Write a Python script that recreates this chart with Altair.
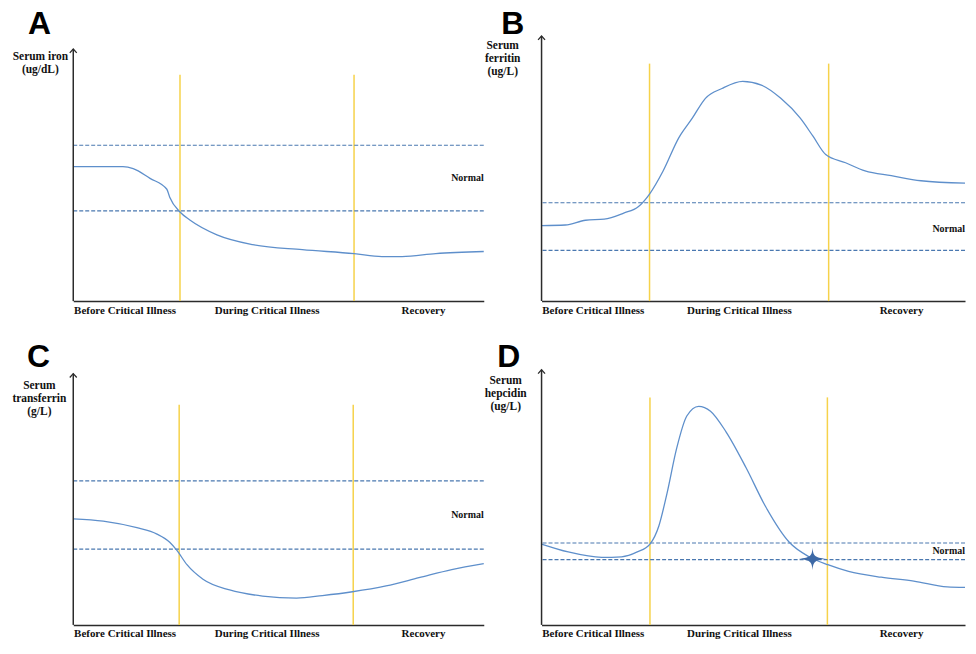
import altair as alt
import pandas as pd

SERIF = "Liberation Serif"
CURVE = "#5E8FCB"
DASH = "#4A78B0"
YEL = "#F6D24A"
AX = "#2b2b2b"
STAR = "#3D69A6"

phase_names = ["Before Critical Illness", "During Critical Illness", "Recovery"]

# ---------- Panel A: serum iron ----------
A_title = ["Serum iron", "(ug/dL)"]
A_x = [0, 12.1, 14.6, 18.7, 22.8, 23.5, 26.0, 28.4, 35.0, 43.7, 55.8, 68.4, 75.2, 80.1, 88.3, 100]
A_y = [50.7, 50.7, 50.0, 46.3, 42.2, 39.2, 33.6, 30.6, 25.0, 21.3, 19.4, 17.9, 16.8, 16.8, 17.9, 18.7]
A_phase = [26.0, 68.4]
A_phase_top = 85.4
A_band = [34.0, 58.8]
A_normal = 46.4
A_arrow = 95.1
A_labels = [12.5, 47.1, 85.2]

# ---------- Panel B: serum ferritin ----------
B_title = ["Serum", "ferritin", "(ug/L)"]
B_x = [0, 5.6, 10.4, 14.8, 19.4, 22.9, 25.5, 28.7, 32.4, 35.6, 38.7, 42.6, 47.5, 51.9,
       56.5, 61.1, 64.1, 67.1, 71.8, 76.4, 82.6, 89.6, 100]
B_y = [28.5, 28.7, 30.5, 30.9, 33.2, 35.7, 40.4, 49.1, 61.6, 69.0, 76.5, 80.2, 82.9, 81.5,
       76.5, 69.0, 62.2, 55.3, 52.2, 49.1, 47.3, 45.4, 44.5]
B_phase = [25.5, 67.8]
B_phase_top = 89.6
B_band = [19.1, 37.1]
B_normal = 27.1
B_arrow = 100
B_labels = [12.1, 46.6, 84.9]

# ---------- Panel C: serum transferrin ----------
C_title = ["Serum", "transferrin", "(g/L)"]
C_x = [0, 7.3, 15.5, 20.4, 23.5, 25.2, 27.7, 31.6, 38.1, 46.1, 54.4, 60.7, 68.0, 76.2, 84.2, 92.2, 100]
C_y = [41.6, 40.7, 38.1, 35.6, 32.4, 29.3, 23.6, 17.9, 13.7, 11.3, 10.5, 11.5, 13.0, 15.3, 18.5, 21.7, 24.0]
C_phase = [25.8, 68.2]
C_phase_top = 86.3
C_band = [29.7, 56.5]
C_normal = 43.0
C_arrow = 98.5
C_labels = [12.5, 47.1, 85.2]

# ---------- Panel D: serum hepcidin ----------
D_title = ["Serum", "hepcidin", "(ug/L)"]
D_x = [0, 6.3, 14.2, 18.9, 22.6, 25.6, 27.7, 29.6, 31.9, 34.3, 37.1, 39.9, 43.6, 48.3,
       52.9, 58.5, 63.2, 67.6, 72.5, 80.2, 87.9, 95.8, 100]
D_y = [31.7, 28.6, 26.5, 26.7, 28.6, 31.7, 38.8, 51.4, 69.2, 81.9, 85.7, 83.8, 75.6, 61.6,
       46.4, 32.4, 26.7, 23.6, 21.0, 18.7, 17.2, 14.9, 14.7]
D_phase = [25.6, 67.5]
D_phase_top = 89.2
D_band = [25.6, 32.1]
D_normal = 29.0
D_arrow = 100
D_labels = [12.1, 46.6, 84.9]
D_star = (64.0, 25.9)

ARROW = "M-1,1.1L0,0L1,1.1"
STAR_SHAPE = ("M0,-0.8 C0.05,-0.25 0.1,-0.1 1,0 C0.1,0.1 0.05,0.25 0,0.8 "
              "C-0.05,0.25 -0.1,0.1 -1,0 C-0.1,-0.1 -0.05,-0.25 0,-0.8 Z")


def panel(letter, cx, cy, phase, phase_top, band, normal_y, arrow_top, labels,
          ytitle, title_x, title_y, w, h, letter_dx, letter_dy, star=None):
    xs = alt.Scale(domain=[0, 100], nice=False, zero=False)
    ys = alt.Scale(domain=[0, 100], nice=False, zero=False)
    expr = ("datum.value < {a} ? '{n0}' : datum.value < {b} ? '{n1}' : '{n2}'"
            .format(a=(labels[0] + labels[1]) / 2, b=(labels[1] + labels[2]) / 2,
                    n0=phase_names[0], n1=phase_names[1], n2=phase_names[2]))
    xaxis = alt.Axis(values=labels, labelExpr=expr, ticks=False, grid=False, domain=True,
                     domainColor=AX, domainWidth=1.5, labelFont=SERIF, labelFontWeight="bold",
                     labelFontSize=11, labelColor="#111", labelPadding=3, title=None,
                     labelOverlap=False, labelFlush=False)
    yaxis = None

    def X(f):
        return alt.X(f, type="quantitative", scale=xs, axis=xaxis)

    def Y(f):
        return alt.Y(f, type="quantitative", scale=ys, axis=yaxis)

    curve_df = pd.DataFrame({"x": cx, "y": cy})
    phase_df = pd.DataFrame({"x": phase, "y0": [0] * len(phase), "y1": [phase_top] * len(phase)})
    band_df = pd.DataFrame({"y": band})
    yax_df = pd.DataFrame({"x": [0], "y0": [0], "y1": [arrow_top]})
    normal_df = pd.DataFrame({"x": [100], "y": [normal_y], "t": ["Normal"]})
    letter_df = pd.DataFrame({"x": [0], "y": [100], "t": [letter]})

    yellow = alt.Chart(phase_df).mark_rule(color=YEL, strokeWidth=1.5).encode(
        x=X("x"), y=Y("y0"), y2="y1")
    dashed = alt.Chart(band_df).mark_rule(color=DASH, strokeWidth=1.2, strokeDash=[4, 2]).encode(
        y=Y("y"))
    curve = alt.Chart(curve_df).mark_line(interpolate="monotone", color=CURVE,
                                          strokeWidth=1.3).encode(x=X("x"), y=Y("y"))
    yline = alt.Chart(yax_df).mark_rule(color=AX, strokeWidth=1.5).encode(
        x=X("x"), y=Y("y0"), y2="y1")
    arrow = alt.Chart(yax_df).mark_point(shape=ARROW, size=49, filled=False, color=AX,
                                         strokeWidth=1.3, opacity=1).encode(x=X("x"), y=Y("y1"))
    normal = alt.Chart(normal_df).mark_text(align="right", baseline="middle", font=SERIF,
                                            fontWeight="bold", fontSize=10, color="#111").encode(
        x=X("x"), y=Y("y"), text="t:N")
    letter_mark = alt.Chart(letter_df).mark_text(
        align="left", baseline="top", font="Liberation Sans", fontWeight="bold",
        fontSize=32, color="black", dx=letter_dx, dy=letter_dy).encode(
        x=X("x"), y=Y("y"), text="t:N")
    layers = [yellow, dashed, curve, yline, arrow, normal, letter_mark]
    for i, line in enumerate(ytitle):
        tdf = pd.DataFrame({"x": [0], "y": [100], "t": [line]})
        layers.append(alt.Chart(tdf).mark_text(
            align="center", baseline="top", font=SERIF, fontWeight="bold", fontSize=11.5,
            color="#111", dx=title_x, dy=title_y + 13 * i).encode(
            x=X("x"), y=Y("y"), text="t:N"))
    if star is not None:
        star_df = pd.DataFrame({"x": [star[0]], "y": [star[1]]})
        layers.append(alt.Chart(star_df).mark_point(shape=STAR_SHAPE, size=784, filled=True,
                                                    color=STAR, opacity=1).encode(
            x=X("x"), y=Y("y")))
    return alt.layer(*layers).properties(width=w, height=h)


pA = panel("A", A_x, A_y, A_phase, A_phase_top, A_band, A_normal, A_arrow, A_labels,
           A_title, -33, 15, 412, 266, -45.5, -27.5)
pB = panel("B", B_x, B_y, B_phase, B_phase_top, B_band, B_normal, B_arrow, B_labels,
           B_title, -39, 4, 425, 266, -40.5, -27.5)
pC = panel("C", C_x, C_y, C_phase, C_phase_top, C_band, C_normal, C_arrow, C_labels,
           C_title, -34, 10, 412, 256, -46.5, -27.5)
pD = panel("D", D_x, D_y, D_phase, D_phase_top, D_band, D_normal, D_arrow, D_labels,
           D_title, -36, 5, 425, 256, -44.5, -27.5, star=D_star)

chart = alt.concat(pA, pB, pC, pD, columns=2, spacing={"row": 69, "column": 58},
                   bounds="flush", align="each",
                   padding={"left": 3.5, "top": -2, "right": 0, "bottom": 0}).configure_view(stroke=None)

chart.save("out.html", embed_options={"renderer": "svg", "actions": False})
